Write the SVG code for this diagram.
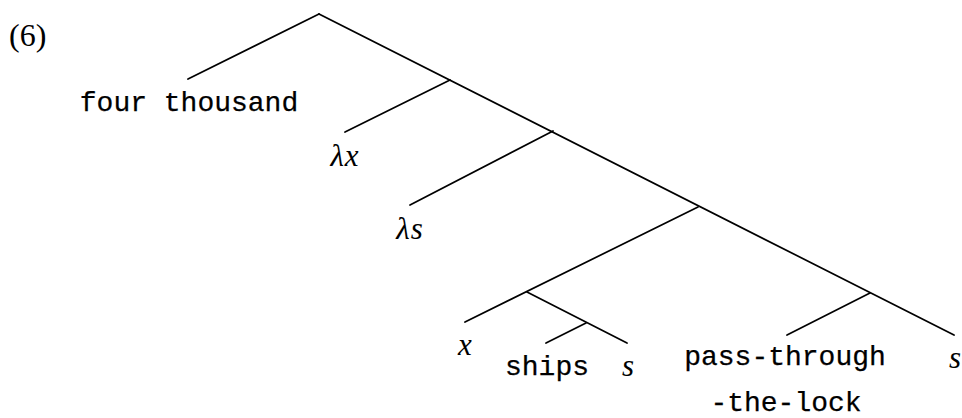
<svg xmlns="http://www.w3.org/2000/svg" width="962" height="418" viewBox="0 0 962 418">
<style>
.e{stroke:#000;stroke-width:1.7;fill:none;stroke-linecap:round}
.m{font-family:"Liberation Mono","DejaVu Sans Mono",monospace;font-size:28px;fill:#000;stroke:#000;stroke-width:0.25;text-anchor:middle}
.v{font-family:"Liberation Serif","DejaVu Serif",serif;font-style:italic;font-size:31px;fill:#000;text-anchor:middle}
.n{font-family:"Liberation Serif","DejaVu Serif",serif;font-size:32px;fill:#000}
</style>
<rect width="962" height="418" fill="#fff"/>
<text class="n" x="9" y="46">(6)</text>
<g id="connectors">
<line class="e" x1="319" y1="14" x2="188" y2="79"/>
<line class="e" x1="319" y1="14" x2="954" y2="335"/>
<line class="e" x1="450" y1="80" x2="345" y2="132"/>
<line class="e" x1="553" y1="131" x2="410" y2="205"/>
<line class="e" x1="698" y1="207" x2="465" y2="322"/>
<line class="e" x1="527" y1="292" x2="627" y2="343"/>
<line class="e" x1="586" y1="323" x2="546" y2="343"/>
<line class="e" x1="870" y1="293" x2="787" y2="335"/>
</g>
<g id="n-four-thousand"><text class="m" x="189" y="111">four thousand</text></g>
<g id="n-lx"><text class="v" x="345" y="166" letter-spacing="1">λx</text></g>
<g id="n-ls"><text class="v" x="410" y="239" letter-spacing="1">λs</text></g>
<g id="n-x"><text class="v" x="465" y="355">x</text></g>
<g id="n-ships"><text class="m" x="547" y="375">ships</text></g>
<g id="n-s1"><text class="v" x="628" y="376">s</text></g>
<g id="n-pass"><text class="m" x="785" y="365">pass-through</text><text class="m" x="786" y="411">-the-lock</text></g>
<g id="n-s2"><text class="v" x="955" y="368">s</text></g>
</svg>
